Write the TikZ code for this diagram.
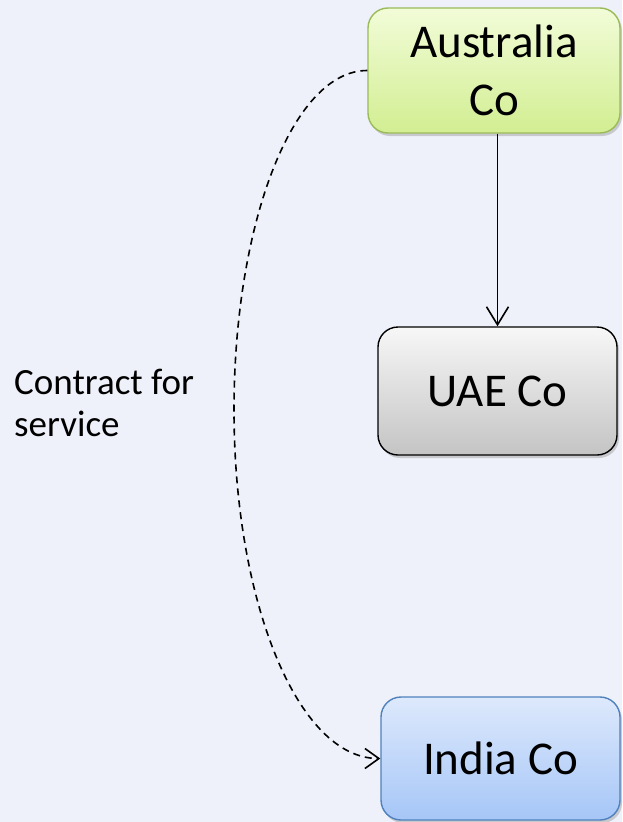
\documentclass[tikz,border=0pt]{standalone}
\usepackage{fontspec}
\setmainfont{Carlito}
\usetikzlibrary{shadows,arrows.meta}
\definecolor{bgc}{HTML}{EEF1F9}
\definecolor{ausborder}{HTML}{9BBB59}
\definecolor{austop}{HTML}{F2FCD8}
\definecolor{ausbot}{HTML}{D2EE92}
\definecolor{uaetop}{HTML}{F7F7F7}
\definecolor{uaebot}{HTML}{C4C4C4}
\definecolor{indborder}{HTML}{4F81BD}
\definecolor{indtop}{HTML}{DDE9FC}
\definecolor{indbot}{HTML}{A6C6F7}
\tikzset{
  box/.style={rounded corners=20pt, minimum width=#1, inner sep=0pt, align=center,
    font=\fontsize{47}{58}\selectfont, line width=1.4pt,
    drop shadow={shadow xshift=2pt, shadow yshift=-3pt, opacity=0.35, fill=gray}},
  ausbox/.style={box=252pt, minimum height=125pt, draw=ausborder, top color=austop, bottom color=ausbot},
  uaebox/.style={box=239pt, minimum height=128pt, draw=black, top color=uaetop, bottom color=uaebot},
  indbox/.style={box=239pt, minimum height=123pt, draw=indborder, top color=indtop, bottom color=indbot},
  conn/.style={line width=1.6pt, -{Straight Barb[length=18pt,width=22pt]}},
  dconn/.style={line width=1.6pt, dash pattern=on 7pt off 5pt, -{Straight Barb[length=14pt,width=20pt]}}
}
\begin{document}
\begin{tikzpicture}[x=1pt,y=-1pt]
\fill[bgc] (0,0) rectangle (622,822);
\useasboundingbox (0,0) rectangle (622,822);
\node[ausbox] (aus) at (494,70.5) {Australia\\Co};
\node[uaebox] (uae) at (497.5,391) {UAE Co};
\node[indbox] (ind) at (500.5,758.5) {India Co};
\node[anchor=north west, align=left, inner sep=0pt, font=\fontsize{37}{42}\selectfont] (lbl) at (14,369) {Contract for\\service};
\coordinate (mid) at (234,410);
\draw[conn] (aus.south -| uae.north) -- (uae.north);
\draw[dconn] (aus.west) .. controls (292,70.5) and (234,225) .. (mid)
  .. controls (234,602) and (298,758.5) .. (ind.west);
\end{tikzpicture}
\end{document}
